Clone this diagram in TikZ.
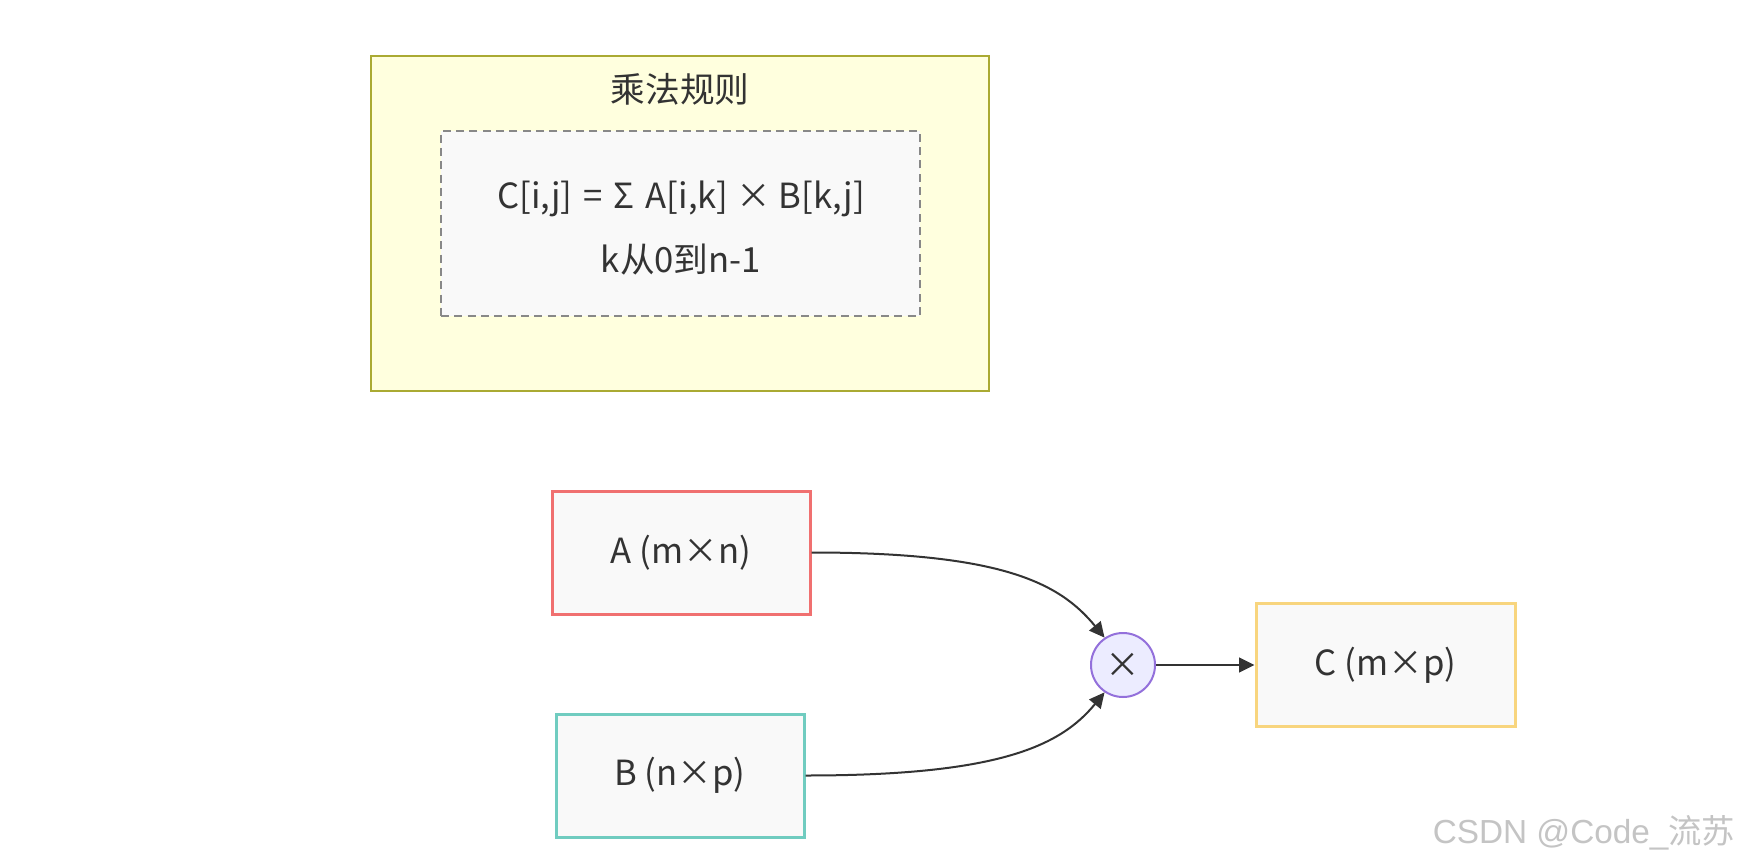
\documentclass[tikz,border=0pt]{standalone}
\usepackage{fontspec}
\setmainfont{Noto Sans CJK SC}
\newfontfamily\wmfont{Liberation Sans}
\newfontfamily\wmcjk{Noto Sans CJK SC}
\usetikzlibrary{arrows.meta}
\definecolor{txt}{HTML}{333333}
\definecolor{grpfill}{HTML}{FFFFDE}
\definecolor{grpline}{HTML}{AAAA33}
\definecolor{boxfill}{HTML}{F9F9F9}
\definecolor{dashline}{HTML}{888888}
\definecolor{aline}{HTML}{F07070}
\definecolor{bline}{HTML}{70CCC0}
\definecolor{cline}{HTML}{F8D57E}
\definecolor{opfill}{HTML}{ECECFF}
\definecolor{opline}{HTML}{9370DB}
\definecolor{wm}{HTML}{C4C4C4}
\newcommand{\gsp}{\hspace{0.32em}}
\tikzset{
  mat/.style={rectangle, fill=boxfill, line width=2.25pt, inner sep=0pt,
    minimum height=92.25pt, text=txt},
  conn/.style={draw=txt, line width=1.5pt, -{Triangle[length=11.5pt,width=11pt]}},
}
\begin{document}
\begin{tikzpicture}[x=0.75pt,y=-0.75pt,font=\fontsize{26}{32}\selectfont]
\useasboundingbox (0,0) rectangle (1747,866);
\fill[white] (0,0) rectangle (1747,866);
% group
\node[rectangle, draw=grpline, fill=grpfill, line width=1.5pt, inner sep=0pt,
  minimum width=463.5pt, minimum height=251.25pt] (grp) at (680,223.5) {};
\node[text=txt] (title) at (680,89) {乘法规则};
\node[rectangle, draw=dashline, fill=boxfill, line width=1.5pt, dash pattern=on 6pt off 4pt,
  inner sep=0pt, minimum width=359.25pt, minimum height=138.75pt] (rule) at (680.5,223.5) {};
\node[text=txt, align=center, font=\fontsize{26}{48}\selectfont] (formula) at (681,228)
  {C[i,j]\gsp=\gsp Σ\gsp A[i,k] × B[k,j]\\k从0到n-1};
% matrices
\node[mat, draw=aline, minimum width=193.5pt] (A) at (681,552.5) {A (m×n)};
\node[mat, draw=bline, minimum width=186pt] (B) at (680,775.5) {B (n×p)};
\node[mat, draw=cline, minimum width=194.25pt] (C) at (1385.5,665) {C (m×p)};
\node[circle, draw=opline, fill=opfill, line width=1.5pt, inner sep=0pt,
  minimum size=48pt, text=txt] (X) at (1123,665) {×};
% connectors
\draw[conn] (A.east) .. controls +(190,0) and +(-45,-55) .. (X.124);
\draw[conn] (B.east) .. controls +(190,0) and +(-45,55) .. (X.236);
\draw[conn] (X.east) -- (C.west);
% watermark
\node[text=wm, font=\fontsize{25}{28}\selectfont] (wmark) at (1584,833)
  {\wmfont CSDN @Code\_\wmcjk 流苏};
\end{tikzpicture}
\end{document}
